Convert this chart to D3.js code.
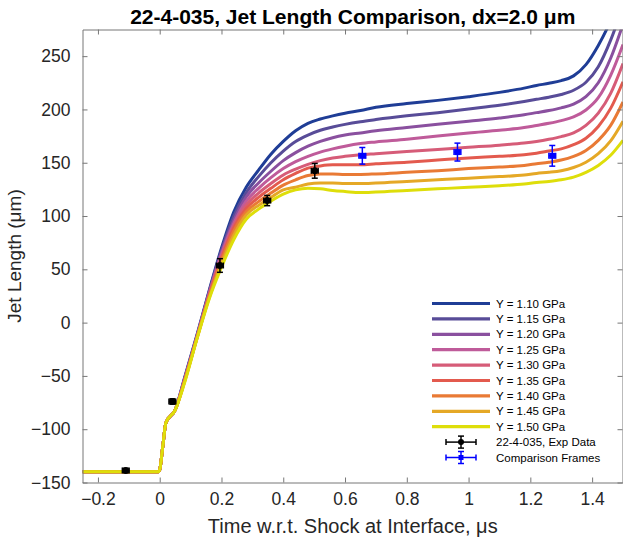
<!DOCTYPE html>
<html lang="en">
<head>
<meta charset="utf-8">
<title>22-4-035, Jet Length Comparison</title>
<script src="https://cdnjs.cloudflare.com/ajax/libs/d3/7.8.5/d3.min.js"></script>
<style>
  body { margin: 0; background: #fff; }
  svg text { font-family: "Liberation Sans", Arial, Helvetica, sans-serif; fill: #262626; }
  .tick text { font-size: 17.5px; }
  .legend text { font-size: 11.5px; fill: #000; }
</style>
</head>
<body>
<svg width="623" height="542"></svg>
<script>
// time grid (us) shared by all simulated curves
var times = [-0.25, -0.005, 0.0, 0.01, 0.02, 0.05,
  0.08, 0.12, 0.16, 0.2, 0.24, 0.28, 0.32, 0.36, 0.40, 0.44, 0.48, 0.52, 0.56, 0.6,
  0.65, 0.7, 0.8, 0.9, 1.0, 1.1, 1.18, 1.22, 1.26, 1.3, 1.34, 1.38, 1.42, 1.46, 1.5];

// early part, identical for every strength
var startLen = [-140, -140, -138, -116, -94, -82];

var strengths = ["1.10", "1.15", "1.20", "1.25", "1.30", "1.35", "1.40", "1.45", "1.50"];
var colors = ["#1f3d96", "#584c98", "#8a509f", "#bf5b9a", "#d65c78", "#e35a4e", "#e97a35", "#e5a826", "#dede0a"];

var len110 = [-52, -12, 30, 70, 104, 127, 143, 158, 170, 180, 187, 191, 194, 196.5, 199, 202, 205.5, 208.5, 212, 216, 220, 222.5, 224.5, 227, 231.5, 242, 260, 283, 310];
var len115 = [-53, -13, 29, 68, 100, 122, 137, 150, 161, 170, 176, 180.5, 183.5, 186, 188.5, 190.5, 194, 197, 200.5, 204, 207.5, 209.5, 211.5, 214, 218, 225.5, 240, 265, 297];
var len120 = [-53.5, -13.5, 28, 66, 96, 118, 131, 142, 152, 159.5, 165.5, 170, 173.5, 176, 178, 180, 183, 186, 189, 192, 195, 197, 199, 201.5, 205, 212, 225, 248, 280];
var len125 = [-54, -14, 27, 64, 93, 114, 126, 136, 144.5, 151, 156, 160, 163, 165.5, 168, 169.5, 172, 175, 178, 180.5, 183, 185, 187, 189.5, 193, 199.5, 211, 232, 261];
var len130 = [-54.5, -14.5, 26, 62, 91, 110.5, 121.5, 130.5, 138.5, 144, 148.5, 152, 154.5, 156, 157.5, 158.5, 160.5, 162.5, 164.5, 166.5, 168.5, 170, 172, 174.5, 178, 185, 196.5, 215, 243];
var len135 = [-55, -15, 25, 60, 89, 107, 117.5, 126, 134, 140, 145, 147, 148, 148, 148, 149, 150.5, 152.5, 154.5, 156, 157.5, 159, 161, 163, 167, 173, 184, 201, 226];
var len140 = [-55.5, -15, 24, 58, 86, 104, 113.5, 121.5, 129, 134, 138, 139.5, 139.5, 139, 139, 139.5, 141, 142.5, 144.5, 146, 147.5, 149, 150.5, 152.5, 156, 161.5, 171, 185, 207];
var len145 = [-56, -15.5, 23, 55, 82, 101, 110, 117.5, 124.5, 127, 130, 131, 131, 130.5, 130.5, 131, 132.5, 134, 135.5, 137, 138.5, 140, 141, 142.5, 145.5, 150.5, 158.5, 170.5, 189];
var len150 = [-57, -16, 22, 52, 78, 97, 106.5, 114, 120.5, 124.5, 126, 125.5, 124, 123, 122, 122.5, 124, 125.5, 127, 128.5, 130, 131.5, 132.5, 134, 136.5, 141, 147.5, 157, 171];
var simLengths = [len110, len115, len120, len125, len130, len135, len140, len145, len150];

// experimental data
var expTime = [-0.11, 0.041, 0.195, 0.348, 0.502];
var expLen = [-138.7, -74, 53.6, 114.5, 142.4];
var expErr = [2, 2.5, 6.4, 4.8, 6.9];
var cmpTime = [0.656, 0.964, 1.271];
var cmpLen = [156.5, 160, 156.5];
var cmpErr = [7.8, 8.4, 9.7];
var timeErr = 0.011;

var xTicks = [-0.2, 0, 0.2, 0.4, 0.6, 0.8, 1, 1.2, 1.4];
var yTicks = [-150, -100, -50, 0, 50, 100, 150, 200, 250];

var svg = d3.select("svg");
var plotL = 82.5, plotR = 623, plotT = 29.5, plotB = 482.5;

var x = d3.scaleLinear().domain([-0.25, 1.5]).range([plotL, plotR]);
var y = d3.scaleLinear().domain([-150, 275]).range([plotB, plotT]);

svg.append("rect").attr("width", 623).attr("height", 542).attr("fill", "#fff");

svg.append("clipPath").attr("id", "plotClip")
  .append("rect")
  .attr("x", plotL).attr("y", plotT)
  .attr("width", plotR - plotL).attr("height", plotB - plotT);

// simulated curves
var line = d3.line()
  .x(function(d) { return x(d[0]); })
  .y(function(d) { return y(d[1]); })
  .curve(d3.curveMonotoneX);

var curves = svg.append("g").attr("clip-path", "url(#plotClip)");
simLengths.forEach(function(vals, i) {
  var all = startLen.concat(vals);
  var pts = times.map(function(t, j) { return [t, all[j]]; });
  curves.append("path")
    .attr("d", line(pts))
    .attr("fill", "none")
    .attr("stroke", colors[i])
    .attr("stroke-width", 3)
    .attr("stroke-linejoin", "round");
});

// error bars
function errBar(g, cx, cy, xe, ye, col) {
  var capW = 3;
  g.append("line").attr("x1", cx).attr("x2", cx).attr("y1", cy - ye).attr("y2", cy + ye)
    .attr("stroke", col).attr("stroke-width", 1.5);
  g.append("line").attr("x1", cx - capW).attr("x2", cx + capW).attr("y1", cy - ye).attr("y2", cy - ye)
    .attr("stroke", col).attr("stroke-width", 1.5);
  g.append("line").attr("x1", cx - capW).attr("x2", cx + capW).attr("y1", cy + ye).attr("y2", cy + ye)
    .attr("stroke", col).attr("stroke-width", 1.5);
  g.append("line").attr("x1", cx - xe).attr("x2", cx + xe).attr("y1", cy).attr("y2", cy)
    .attr("stroke", col).attr("stroke-width", 1.5);
  g.append("line").attr("x1", cx - xe).attr("x2", cx - xe).attr("y1", cy - capW).attr("y2", cy + capW)
    .attr("stroke", col).attr("stroke-width", 1.5);
  g.append("line").attr("x1", cx + xe).attr("x2", cx + xe).attr("y1", cy - capW).attr("y2", cy + capW)
    .attr("stroke", col).attr("stroke-width", 1.5);
}

var marks = svg.append("g");
expTime.forEach(function(t, i) {
  var cx = x(t), cy = y(expLen[i]);
  errBar(marks, cx, cy, x(t + timeErr) - cx, cy - y(expLen[i] + expErr[i]), "#000");
  marks.append("circle").attr("cx", cx).attr("cy", cy).attr("r", 3.5).attr("fill", "#000");
});
cmpTime.forEach(function(t, i) {
  var cx = x(t), cy = y(cmpLen[i]);
  errBar(marks, cx, cy, x(t + timeErr) - cx, cy - y(cmpLen[i] + cmpErr[i]), "#0000ff");
  marks.append("rect").attr("x", cx - 3).attr("y", cy - 3).attr("width", 6).attr("height", 6).attr("fill", "#0000ff");
});

// axes (box with inward ticks)
var axisCol = "#777";
svg.append("g").attr("transform", "translate(0," + plotB + ")")
  .call(d3.axisBottom(x).tickValues(xTicks).tickSizeInner(-5).tickSizeOuter(0).tickPadding(10).tickFormat(d3.format("")));
svg.append("g").attr("transform", "translate(0," + plotT + ")")
  .call(d3.axisTop(x).tickValues(xTicks).tickSizeInner(-5).tickSizeOuter(0).tickFormat(""));
svg.append("g").attr("transform", "translate(" + plotL + ",0)")
  .call(d3.axisLeft(y).tickValues(yTicks).tickSizeInner(-5).tickSizeOuter(0).tickPadding(12));
svg.append("g").attr("transform", "translate(" + (plotR - 0.5) + ",0)")
  .call(d3.axisRight(y).tickValues(yTicks).tickSizeInner(-5).tickSizeOuter(0).tickFormat(""));
svg.selectAll(".domain, .tick line").attr("stroke", axisCol);
svg.selectAll(".tick text").attr("fill", "#262626");

// titles
svg.append("text")
  .attr("x", (plotL + plotR) / 2).attr("y", 24)
  .attr("text-anchor", "middle")
  .style("font-size", "21px").style("font-weight", "bold").style("fill", "#000")
  .text("22-4-035, Jet Length Comparison, dx=2.0 μm");
svg.append("text")
  .attr("x", (plotL + plotR) / 2).attr("y", 533)
  .attr("text-anchor", "middle")
  .style("font-size", "20px")
  .text("Time w.r.t. Shock at Interface, μs");
svg.append("text")
  .attr("transform", "translate(21," + ((plotT + plotB) / 2) + ") rotate(-90)")
  .attr("text-anchor", "middle")
  .style("font-size", "19px")
  .text("Jet Length (μm)");

// legend
var legend = svg.append("g").attr("class", "legend");
var legX1 = 432, legX2 = 490, legTx = 496, legY = 303.5, legDy = 15.4;
strengths.forEach(function(s, i) {
  var ly = legY + i * legDy;
  legend.append("line").attr("x1", legX1).attr("x2", legX2).attr("y1", ly).attr("y2", ly)
    .attr("stroke", colors[i]).attr("stroke-width", 3.2);
  legend.append("text").attr("x", legTx).attr("y", ly).attr("dy", "0.35em").text("Y = " + s + " GPa");
});
var ly1 = legY + 9 * legDy, ly2 = legY + 10 * legDy, lcx = (legX1 + legX2) / 2;
errBar(legend, lcx, ly1, 15, 6, "#000");
legend.append("circle").attr("cx", lcx).attr("cy", ly1).attr("r", 3).attr("fill", "#000");
legend.append("text").attr("x", legTx).attr("y", ly1).attr("dy", "0.35em").text("22-4-035, Exp Data");
errBar(legend, lcx, ly2, 15, 6, "#0000ff");
legend.append("rect").attr("x", lcx - 2.5).attr("y", ly2 - 2.5).attr("width", 5).attr("height", 5).attr("fill", "#0000ff");
legend.append("text").attr("x", legTx).attr("y", ly2).attr("dy", "0.35em").text("Comparison Frames");
</script>
</body>
</html>
